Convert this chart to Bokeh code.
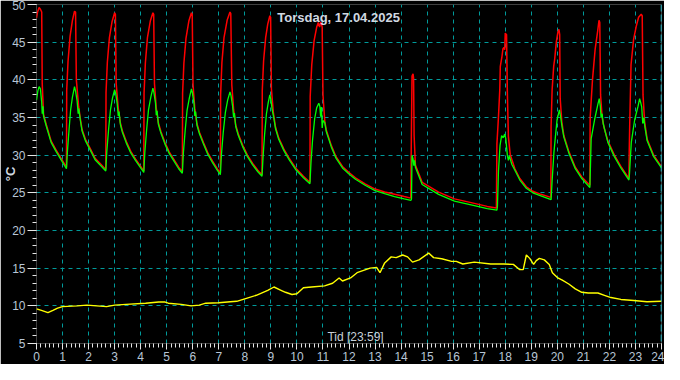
from bokeh.plotting import figure
from bokeh.models import Range1d, SingleIntervalTicker, FixedTicker, Span, Label
from bokeh.embed import file_html
from bokeh.resources import INLINE

# ---- data ----
title_text = "Torsdag, 17.04.2025"
x_title = "Tid [23:59]"
y_title = "°C"

hour_grid = list(range(1, 24))
temp_grid = [10, 15, 20, 25, 30, 35, 40, 45]

red_t = [0.00, 0.04, 0.10, 0.16, 0.20, 0.22, 0.27, 0.38, 0.56, 0.75, 0.94, 1.15,
         1.16, 1.21, 1.29, 1.38, 1.46, 1.50, 1.53, 1.62, 1.69, 1.75, 1.88, 2.06, 2.25, 2.50, 2.66,
         2.67, 2.72, 2.80, 2.90, 3.00, 3.03, 3.06, 3.14, 3.22, 3.30, 3.45, 3.62, 3.80, 4.00, 4.12,
         4.13, 4.18, 4.26, 4.37, 4.47, 4.50, 4.53, 4.60, 4.68, 4.78, 4.93, 5.10, 5.28, 5.46, 5.60,
         5.61, 5.66, 5.74, 5.85, 5.95, 5.98, 6.01, 6.08, 6.16, 6.26, 6.42, 6.58, 6.76, 6.94, 7.06,
         7.07, 7.12, 7.20, 7.32, 7.43, 7.46, 7.50, 7.57, 7.65, 7.75, 7.92, 8.10, 8.30, 8.50, 8.66,
         8.67, 8.72, 8.80, 8.88, 8.96, 8.99, 9.02, 9.10, 9.18, 9.30, 9.50, 9.70, 9.95, 10.25, 10.50,
         10.51, 10.57, 10.66, 10.76, 10.82, 10.87, 10.92, 10.97, 11.00, 11.07, 11.13, 11.32, 11.50,
         11.75, 12.00, 12.25, 12.62, 13.00, 13.37, 13.75, 14.12, 14.37,
         14.39, 14.42, 14.46, 14.48, 14.50, 14.55, 14.81, 15.44, 16.05, 16.69, 17.31, 17.66,
         17.68, 17.74, 17.79, 17.81, 17.87, 17.91, 17.95, 17.98, 18.00, 18.05, 18.08, 18.12, 18.19,
         18.37, 18.56, 18.81, 19.06, 19.37, 19.75,
         19.76, 19.80, 19.86, 19.90, 19.96, 20.02, 20.06, 20.09, 20.11, 20.17, 20.25, 20.44, 20.69,
         20.94, 21.25,
         21.26, 21.35, 21.45, 21.55, 21.60, 21.63, 21.66, 21.72, 21.80, 21.94, 22.19, 22.44, 22.75,
         22.76, 22.78, 22.83, 22.93, 23.03, 23.12, 23.22, 23.26, 23.29, 23.35, 23.45, 23.70, 24.00]
red_v = [48.2, 49.0, 49.6, 49.3, 49.0, 39.5, 35.4, 34.0, 31.9, 30.7, 29.6, 28.4,
         38.6, 42.4, 45.8, 47.9, 49.1, 49.0, 40.0, 36.4, 34.7, 33.4, 32.1, 30.9, 29.6, 28.7, 28.1,
         38.3, 42.3, 45.6, 47.7, 48.9, 48.7, 39.5, 36.2, 34.3, 33.2, 31.8, 30.5, 29.5, 28.5, 27.9,
         38.2, 42.2, 45.6, 47.8, 48.9, 48.7, 39.5, 36.2, 34.3, 33.1, 31.7, 30.4, 29.4, 28.4, 27.8,
         38.2, 42.2, 45.5, 47.8, 48.9, 48.7, 39.4, 36.1, 34.2, 33.0, 31.6, 30.3, 29.2, 28.2, 27.6,
         38.0, 42.3, 45.6, 47.9, 49.0, 48.8, 39.3, 36.0, 34.0, 32.8, 31.3, 30.0, 28.9, 28.0, 27.4,
         38.6, 42.5, 45.6, 47.4, 48.5, 48.3, 38.8, 35.5, 33.7, 32.3, 30.8, 29.6, 28.3, 27.2, 26.4,
         37.8, 42.0, 45.2, 47.0, 47.6, 47.0, 47.7, 47.0, 38.0, 34.5, 33.3, 31.3, 29.8,
         28.5, 27.7, 27.0, 26.2, 25.5, 25.1, 24.8, 24.5, 24.3,
         31.0, 40.5, 40.8, 40.2, 32.6, 28.7, 26.4, 25.1, 24.2, 23.7, 23.2, 23.0,
         31.5, 35.1, 38.7, 41.8, 43.0, 44.1, 44.3, 44.0, 46.2, 46.0, 38.5, 32.5, 30.1,
         28.2, 26.9, 25.8, 25.2, 24.8, 24.4,
         33.8, 38.7, 41.8, 42.8, 45.0, 46.3, 46.7, 46.0, 37.5, 34.5, 32.6, 30.5, 28.4,
         27.1, 26.0,
         35.0, 40.0, 44.0, 46.5, 47.9, 47.6, 38.0, 35.0, 33.6, 31.9, 30.0, 28.5, 26.9,
         30.4, 34.1, 42.0, 45.4, 47.1, 48.3, 48.7, 48.5, 38.0, 34.5, 32.1, 30.0, 28.45]

green_t = [0.00, 0.05, 0.10, 0.15, 0.20, 0.22, 0.25, 0.27, 0.38, 0.56, 0.75, 0.94, 1.15,
           1.19, 1.25, 1.31, 1.38, 1.46, 1.50, 1.56, 1.60, 1.62, 1.69, 1.75, 1.88, 2.06, 2.25, 2.50, 2.66,
           2.70, 2.77, 2.84, 2.92, 3.00, 3.04, 3.10, 3.14, 3.17, 3.22, 3.30, 3.45, 3.62, 3.80, 4.00, 4.12,
           4.16, 4.23, 4.30, 4.39, 4.47, 4.51, 4.57, 4.60, 4.63, 4.68, 4.78, 4.93, 5.10, 5.28, 5.46, 5.60,
           5.64, 5.71, 5.78, 5.87, 5.95, 5.99, 6.05, 6.08, 6.11, 6.16, 6.26, 6.42, 6.58, 6.76, 6.94, 7.06,
           7.10, 7.17, 7.25, 7.34, 7.43, 7.47, 7.53, 7.57, 7.60, 7.65, 7.75, 7.92, 8.10, 8.30, 8.50, 8.66,
           8.70, 8.76, 8.83, 8.90, 8.96, 9.00, 9.05, 9.10, 9.18, 9.30, 9.50, 9.70, 9.95, 10.25, 10.50,
           10.54, 10.60, 10.68, 10.76, 10.84, 10.88, 10.91, 10.94, 10.97, 11.00, 11.07, 11.13, 11.32,
           11.50, 11.75, 12.00, 12.25, 12.62, 13.00, 13.37, 13.75, 14.12, 14.38,
           14.40, 14.42, 14.46, 14.49, 14.52, 14.55, 14.81, 15.44, 16.05, 16.69, 17.31, 17.68,
           17.70, 17.74, 17.80, 17.86, 17.92, 17.98, 18.02, 18.08, 18.12, 18.16, 18.25, 18.37, 18.56,
           18.81, 19.06, 19.37, 19.76,
           19.80, 19.87, 19.93, 19.99, 20.08, 20.12, 20.18, 20.25, 20.44, 20.69, 20.94, 21.25,
           21.30, 21.43, 21.56, 21.61, 21.65, 21.68, 21.72, 21.76, 21.94, 22.19, 22.44, 22.75,
           22.77, 22.84, 22.97, 23.10, 23.16, 23.20, 23.24, 23.28, 23.32, 23.36, 23.45, 23.70, 24.00]
green_v = [37.3, 38.5, 39.1, 38.8, 37.0, 35.5, 36.5, 35.2, 33.8, 31.7, 30.5, 29.4, 28.2,
           30.6, 33.4, 36.0, 37.7, 39.1, 38.5, 37.2, 35.5, 36.2, 34.5, 33.2, 31.9, 30.7, 29.4, 28.5, 27.9,
           30.5, 33.5, 36.0, 37.6, 38.7, 38.2, 36.8, 35.2, 35.8, 34.1, 33.0, 31.6, 30.3, 29.3, 28.3, 27.7,
           30.4, 33.4, 36.0, 37.7, 38.9, 38.3, 36.9, 35.3, 35.9, 34.1, 32.9, 31.5, 30.2, 29.2, 28.2, 27.6,
           30.3, 33.3, 35.9, 37.6, 38.8, 38.2, 36.8, 35.2, 35.8, 34.0, 32.8, 31.4, 30.1, 29.0, 28.0, 27.4,
           30.0, 33.0, 35.6, 37.3, 38.4, 37.9, 36.5, 35.0, 35.6, 33.8, 32.6, 31.1, 29.8, 28.7, 27.8, 27.2,
           29.8, 32.8, 35.5, 37.0, 38.0, 37.4, 36.0, 35.2, 33.5, 32.1, 30.6, 29.4, 28.1, 27.0, 26.2,
           29.0, 32.0, 34.8, 36.3, 36.9, 36.5, 35.1, 36.4, 33.6, 34.6, 34.3, 33.1, 31.1,
           29.6, 28.3, 27.5, 26.8, 26.0, 25.3, 24.9, 24.5, 24.2, 24.0,
           24.2, 30.0, 29.5, 28.6, 29.3, 28.4, 26.1, 24.8, 23.9, 23.4, 22.9, 22.7,
           23.2, 27.9, 31.3, 32.6, 32.3, 32.8, 32.2, 30.0, 29.3, 29.9, 28.8, 28.0, 26.7,
           25.6, 25.0, 24.6, 24.1,
           26.6, 30.4, 32.6, 34.7, 36.0, 35.2, 33.8, 32.4, 30.3, 28.2, 26.9, 25.7,
           32.2, 34.7, 36.8, 37.5, 36.5, 35.0, 35.5, 34.2, 31.7, 29.8, 28.3, 26.7,
           27.5, 31.7, 34.7, 36.5, 37.5, 37.0, 36.4, 34.2, 35.0, 33.8, 31.9, 29.8, 28.3]

yellow_t = [0.00, 0.19, 0.44, 0.63, 0.81, 1.00, 1.56, 1.94, 2.69, 3.00, 3.44, 4.19, 4.69, 4.94,
            5.06, 5.56, 5.94, 6.25, 6.50, 7.00, 7.44, 7.69, 8.06, 8.44, 8.88, 9.12, 9.37, 9.56,
            9.81, 10.00, 10.25, 10.56, 11.06, 11.37, 11.62, 11.75, 12.06, 12.31, 12.56, 12.81,
            13.06, 13.19, 13.37, 13.62, 13.81, 14.06, 14.25, 14.44, 14.69, 15.06, 15.25, 15.56,
            15.94, 16.12, 16.37, 16.81, 17.44, 17.94, 18.31, 18.56, 18.69, 18.81, 18.94, 19.09,
            19.19, 19.31, 19.50, 19.69, 19.81, 20.00, 20.19, 20.44, 20.69, 20.94, 21.19, 21.56,
            21.81, 22.06, 22.44, 22.94, 23.44, 24.00]
yellow_v = [9.6, 9.4, 9.1, 9.4, 9.7, 9.9, 10.0, 10.1, 9.9, 10.1, 10.2, 10.35, 10.5, 10.5,
            10.35, 10.2, 10.0, 10.1, 10.35, 10.4, 10.55, 10.6, 11.0, 11.4, 12.05, 12.5, 12.1, 11.8,
            11.5, 11.6, 12.4, 12.5, 12.65, 13.0, 13.7, 13.3, 13.7, 14.4, 14.7, 15.0,
            15.1, 14.4, 15.7, 16.5, 16.4, 16.75, 16.5, 15.8, 16.1, 17.0, 16.4, 16.25,
            15.9, 15.9, 15.55, 15.8, 15.55, 15.55, 15.5, 14.8, 14.8, 16.75, 16.3, 15.5,
            16.0, 16.3, 16.1, 15.5, 14.4, 13.75, 13.4, 12.9, 12.25, 11.8, 11.7, 11.7,
            11.4, 11.1, 10.85, 10.7, 10.55, 10.6]

# ---- figure ----
p = figure(width=664, height=364, x_range=Range1d(0, 24), y_range=Range1d(5, 50),
           output_backend="svg", toolbar_location=None,
           min_border_left=35, min_border_right=3, min_border_top=4, min_border_bottom=21,
           background_fill_color="black", border_fill_color="black", outline_line_color=None)

label_color = "#b8c6d6"
tick_color = "#e6e6e6"

p.xaxis.ticker = SingleIntervalTicker(interval=1, num_minor_ticks=6)
p.yaxis.ticker = SingleIntervalTicker(interval=5, num_minor_ticks=5)
for ax in (p.xaxis, p.yaxis):
    ax.axis_line_color = None
    ax.major_tick_line_color = tick_color
    ax.minor_tick_line_color = tick_color
    ax.major_tick_in = 0
    ax.minor_tick_in = 0
    ax.major_label_text_color = label_color
    ax.major_label_text_font = "Liberation Sans"
    ax.major_label_text_font_size = "12px"
    ax.major_label_standoff = 2
p.xaxis.major_tick_out = 6
p.xaxis.minor_tick_out = 4
p.yaxis.major_tick_out = 9
p.yaxis.minor_tick_out = 4

p.yaxis.axis_label = y_title
p.yaxis.axis_label_standoff = -9
p.yaxis.axis_label_text_color = "#d0d8e0"
p.yaxis.axis_label_text_font = "Liberation Sans"
p.yaxis.axis_label_text_font_size = "13px"
p.yaxis.axis_label_text_font_style = "bold"

p.xgrid.ticker = FixedTicker(ticks=hour_grid)
p.ygrid.ticker = FixedTicker(ticks=temp_grid)
for g in (p.xgrid, p.ygrid):
    g.grid_line_color = "#009a9a"
    g.grid_line_dash = "4 4"
    g.grid_line_width = 1

p.add_layout(Span(location=24, dimension="height", line_color="#22e6f6",
                  line_dash="7 3", line_width=1.5))

p.line(yellow_t, yellow_v, line_color="#ffff00", line_width=1.4)
p.line(red_t, red_v, line_color="#ff0000", line_width=1.5)
p.line(green_t, green_v, line_color="#00ff00", line_width=1.3)

p.add_layout(Label(x=11.6, y=48.3, text=title_text, text_align="center",
                   text_baseline="middle", text_color="#d0d8e0", text_font="Liberation Sans",
                   text_font_size="13px", text_font_style="bold"))
p.add_layout(Label(x=12.25, y=5.9, text=x_title, text_align="center",
                   text_baseline="middle", text_color="#c8d0d8", text_font="Liberation Sans",
                   text_font_size="12px"))

open("out.html", "w").write(file_html(p, INLINE))
